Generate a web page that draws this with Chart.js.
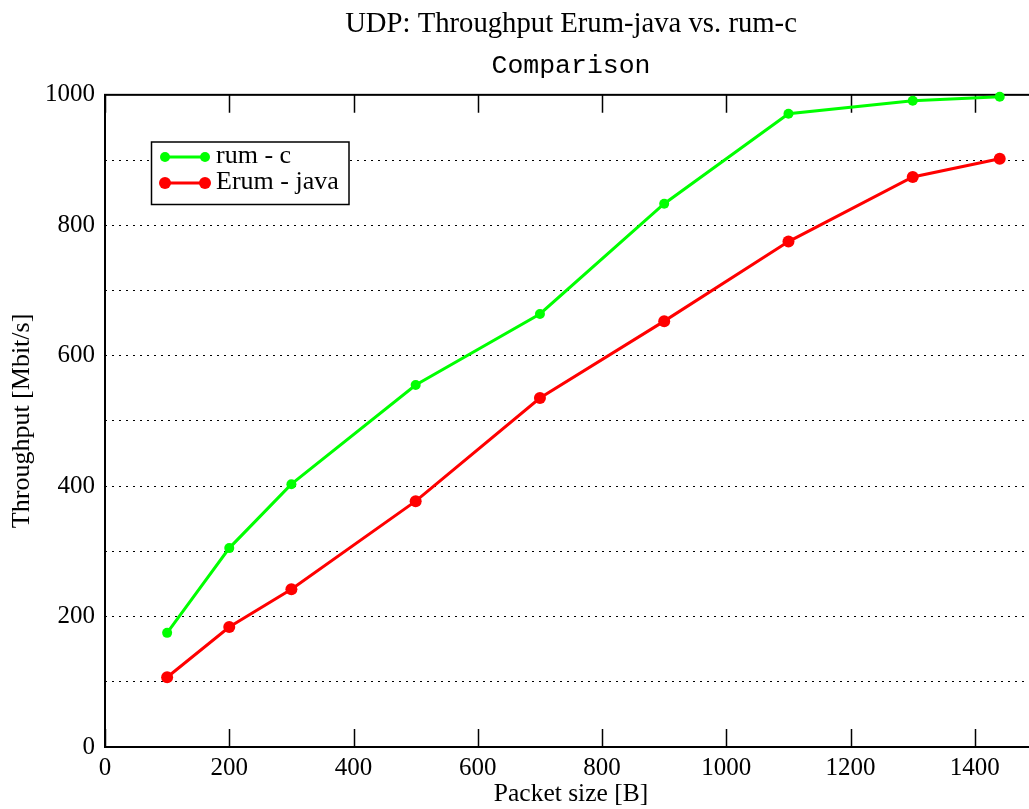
<!DOCTYPE html>
<html>
<head>
<meta charset="utf-8">
<script src="https://cdn.jsdelivr.net/npm/chart.js@4.4.1/dist/chart.umd.min.js"></script>
<style>
  html, body { margin: 0; padding: 0; background: #ffffff; overflow: hidden; }
  #wrap { width: 1029px; height: 809px; position: relative; overflow: hidden; }
  #c { position: absolute; left: 0; top: 0; }
</style>
</head>
<body>
<div id="wrap"><canvas id="c" width="1037" height="809"></canvas></div>
<script>
// ---- data ----
const packetSizes = [100, 200, 300, 500, 700, 900, 1100, 1300, 1440];
const rumC        = [175, 305, 403, 555, 664, 833, 971, 991, 997];
const erumJava    = [107, 184, 242, 377, 535, 653, 775, 874, 902];
const seriesLabels = ['rum - c', 'Erum - java'];
const chartTitle = 'UDP: Throughput Erum-java vs. rum-c';
const chartSubtitle = 'Comparison';
const xAxisTitle = 'Packet size [B]';
const yAxisTitle = 'Throughput [Mbit/s]';

const SERIF = "'Liberation Serif', 'Times New Roman', serif";
const MONO = "'Liberation Mono', 'Courier New', monospace";

function toPoints(xs, ys) { return xs.map((x, i) => ({ x: x, y: ys[i] })); }

// Border box + inward x tick marks
const frame = {
  id: 'frame',
  beforeDatasetsDraw(chart) {
    const { ctx, chartArea: a, scales: { x } } = chart;
    ctx.save();
    ctx.strokeStyle = '#000';
    ctx.lineWidth = 2;
    ctx.strokeRect(a.left, a.top, a.right - a.left, a.bottom - a.top);
    ctx.lineWidth = 1.5;
    x.ticks.forEach(t => {
      const px = Math.round(x.getPixelForValue(t.value)) + 0.5;
      ctx.beginPath();
      ctx.moveTo(px, a.bottom); ctx.lineTo(px, a.bottom - 18);
      ctx.moveTo(px, a.top); ctx.lineTo(px, a.top + 18);
      ctx.stroke();
    });
    ctx.restore();
  }
};

// Legend box with line+point samples
const legendBox = {
  id: 'legendBox',
  afterDraw(chart) {
    const { ctx } = chart;
    const bx = 151.5, by = 142, bw = 197.5, bh = 62.5;
    ctx.save();
    ctx.fillStyle = '#fff';
    ctx.fillRect(bx, by, bw, bh);
    ctx.strokeStyle = '#000';
    ctx.lineWidth = 1.5;
    ctx.strokeRect(bx, by, bw, bh);
    chart.data.datasets.forEach((ds, i) => {
      const y = 157 + i * 26;
      ctx.strokeStyle = ds.borderColor;
      ctx.lineWidth = ds.borderWidth;
      ctx.beginPath(); ctx.moveTo(165, y); ctx.lineTo(205, y); ctx.stroke();
      ctx.fillStyle = ds.pointBackgroundColor;
      [165, 205].forEach(px => {
        ctx.beginPath(); ctx.arc(px, y, ds.pointRadius, 0, Math.PI * 2); ctx.fill();
      });
      ctx.fillStyle = '#000';
      ctx.font = '26px ' + SERIF;
      ctx.textBaseline = 'middle';
      ctx.textAlign = 'left';
      ctx.fillText(ds.label, 216, y - 1);
    });
    ctx.restore();
  }
};

new Chart(document.getElementById('c'), {
  type: 'line',
  data: {
    datasets: [
      {
        label: seriesLabels[0],
        data: toPoints(packetSizes, rumC),
        borderColor: '#00ff00',
        backgroundColor: '#00ff00',
        pointBackgroundColor: '#00ff00',
        pointBorderWidth: 0,
        pointRadius: 5,
        borderWidth: 3,
        tension: 0,
        clip: false
      },
      {
        label: seriesLabels[1],
        data: toPoints(packetSizes, erumJava),
        borderColor: '#ff0000',
        backgroundColor: '#ff0000',
        pointBackgroundColor: '#ff0000',
        pointBorderWidth: 0,
        pointRadius: 6,
        borderWidth: 3,
        tension: 0,
        clip: false
      }
    ]
  },
  options: {
    responsive: false,
    animation: false,
    events: [],
    layout: { padding: 0, autoPadding: false },
    plugins: {
      legend: { display: false },
      tooltip: { enabled: false },
      title: {
        display: true,
        text: chartTitle,
        fullSize: false,
        color: '#000',
        font: { family: SERIF, size: 28.7, weight: 'normal', lineHeight: 1.2 },
        padding: { top: 6.8, bottom: 0 }
      },
      subtitle: {
        display: true,
        text: chartSubtitle,
        fullSize: false,
        color: '#000',
        font: { family: MONO, size: 26.5, weight: 'normal', lineHeight: 1.2 },
        padding: { top: 8.7, bottom: 13.1 }
      }
    },
    scales: {
      x: {
        type: 'linear',
        min: 0,
        max: 1500,
        afterFit(s) { s.height = 62; },
        ticks: {
          stepSize: 200,
          includeBounds: false,
          color: '#000',
          padding: 6,
          maxRotation: 0,
          font: { family: SERIF, size: 25 },
          callback: v => String(v)
        },
        grid: { display: false, drawTicks: false },
        border: { display: false },
        title: {
          display: true,
          text: xAxisTitle,
          color: '#000',
          font: { family: SERIF, size: 25.5, lineHeight: 1 },
          padding: { top: 0, bottom: 1.5 }
        }
      },
      y: {
        min: 0,
        max: 1000,
        afterFit(s) { s.width = 105; },
        ticks: {
          stepSize: 100,
          color: '#000',
          padding: 10,
          font: { family: SERIF, size: 25 },
          callback: v => (v % 200 === 0 ? String(v) : '')
        },
        grid: { color: '#000', lineWidth: 1, drawTicks: false },
        border: { display: false, dash: [2, 5] },
        title: {
          display: true,
          text: yAxisTitle,
          color: '#000',
          font: { family: SERIF, size: 26, lineHeight: 1.2 },
          padding: { top: 7, bottom: 0 }
        }
      }
    }
  },
  plugins: [frame, legendBox]
});
</script>
</body>
</html>
